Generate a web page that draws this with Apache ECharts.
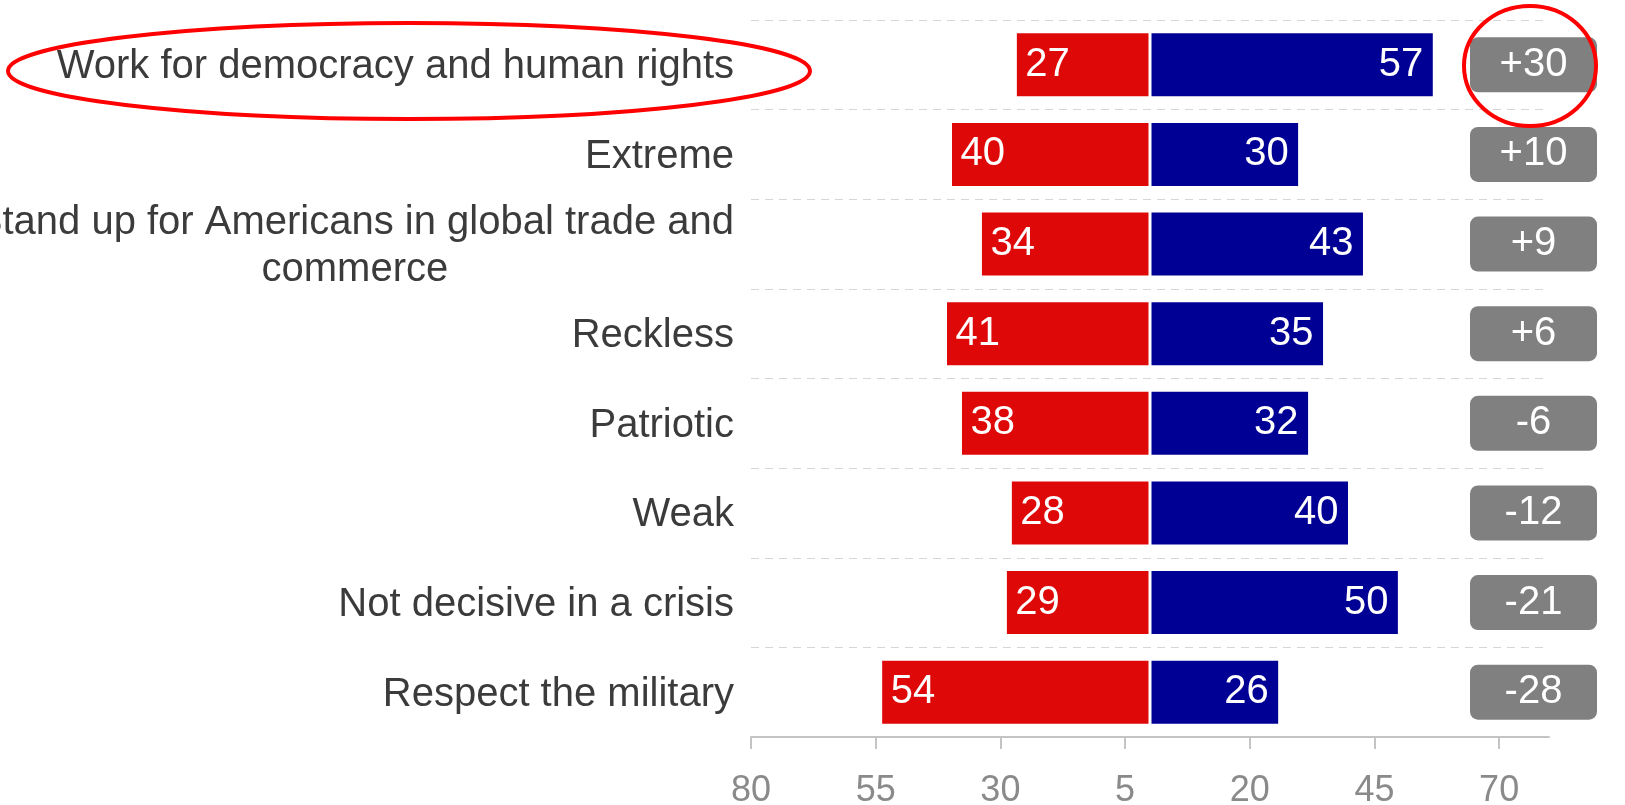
<!DOCTYPE html>
<html>
<head>
<meta charset="utf-8">
<script src="https://cdn.jsdelivr.net/npm/echarts@6/dist/echarts.min.js"></script>
<style>
html,body{margin:0;padding:0;background:#fff;}
#chart{width:1625px;height:805px;}
</style>
</head>
<body>
<div id="chart"></div>
<script>
const categories = [
  'Work for democracy and human rights',
  'Extreme',
  'Stand up for Americans in global trade and\ncommerce',
  'Reckless',
  'Patriotic',
  'Weak',
  'Not decisive in a crisis',
  'Respect the military'
];
const redValues = [27, 40, 34, 41, 38, 28, 29, 54];
const blueValues = [57, 30, 43, 35, 32, 40, 50, 26];
const diffValues = [30, 10, 9, 6, -6, -12, -21, -28];
const xTickValues = [-80, -55, -30, -5, 20, 45, 70];

const FONT = '"Liberation Sans", Arial, sans-serif';
const chart = echarts.init(document.getElementById('chart'), null, {renderer: 'canvas'});

const option = {
  animation: false,
  backgroundColor: '#fff',
  textStyle: {fontFamily: FONT},
  grid: [
    {left: 751, right: 76, top: 20, bottom: 68, containLabel: false, outerBoundsMode: 'none'},
    {left: 1470, width: 127, top: 20, bottom: 68, containLabel: false, outerBoundsMode: 'none'}
  ],
  xAxis: [
    {
      type: 'value', gridIndex: 0, min: -80, max: 80, interval: 25,
      axisLine: {show: true, lineStyle: {color: '#c4c4c4', width: 2}},
      axisTick: {show: true, length: 12, customValues: xTickValues, lineStyle: {color: '#c4c4c4', width: 2}},
      axisLabel: {
        customValues: xTickValues, margin: 36, fontSize: 36, color: '#8a8a8a', fontFamily: FONT,
        formatter: v => String(Math.abs(v))
      },
      splitLine: {show: false}
    },
    {
      type: 'value', gridIndex: 1, min: 0, max: 1, show: false
    }
  ],
  yAxis: [
    {
      type: 'category', gridIndex: 0, data: categories, inverse: true,
      axisLine: {show: false}, axisTick: {show: false},
      splitLine: {show: true, lineStyle: {color: '#d6d6d6', type: [8, 6], width: 1}},
      axisLabel: {
        interval: 0, margin: 17, fontSize: 40, color: '#3b3b3b', fontFamily: FONT,
        padding: [5, 0, 0, 0],
        formatter: v => v.split('\n').map(s => '{c|' + s + '}').join('\n'),
        rich: {c: {align: 'center', fontSize: 40, lineHeight: 47, color: '#3b3b3b', fontFamily: FONT}}
      }
    },
    {
      type: 'category', gridIndex: 1, data: categories, inverse: true, show: false
    }
  ],
  series: [
    {
      name: 'red', type: 'bar', stack: 'a', xAxisIndex: 0, yAxisIndex: 0,
      barWidth: 66,
      data: redValues.map(v => -v),
      itemStyle: {color: '#df0808', borderColor: '#ffffff', borderWidth: 1.5},
      label: {
        show: true, position: 'insideLeft', distance: 10, color: '#fff', fontSize: 40, fontFamily: FONT,
        formatter: p => String(Math.abs(p.value))
      }
    },
    {
      name: 'blue', type: 'bar', stack: 'a', xAxisIndex: 0, yAxisIndex: 0,
      barWidth: 66,
      data: blueValues,
      itemStyle: {color: '#000094', borderColor: '#ffffff', borderWidth: 1.5},
      label: {
        show: true, position: 'insideRight', distance: 11, color: '#fff', fontSize: 40, fontFamily: FONT,
        formatter: p => String(p.value)
      }
    },
    {
      name: 'diff', type: 'bar', xAxisIndex: 1, yAxisIndex: 1,
      barWidth: 55,
      data: diffValues.map(v => ({value: 1, diff: v})),
      itemStyle: {color: '#808080', borderRadius: 8},
      label: {
        show: true, position: 'inside', color: '#fff', fontSize: 40, fontFamily: FONT,
        formatter: p => (diffValues[p.dataIndex] > 0 ? '+' : '') + diffValues[p.dataIndex]
      }
    }
  ],
  graphic: [
    {
      type: 'ellipse', z: 100,
      shape: {cx: 409, cy: 71, rx: 401, ry: 48},
      style: {fill: 'none', stroke: '#ff0000', lineWidth: 4}
    },
    {
      type: 'ellipse', z: 100,
      shape: {cx: 1530, cy: 66, rx: 66, ry: 60},
      style: {fill: 'none', stroke: '#ff0000', lineWidth: 4}
    }
  ]
};
chart.setOption(option);
</script>
</body>
</html>
